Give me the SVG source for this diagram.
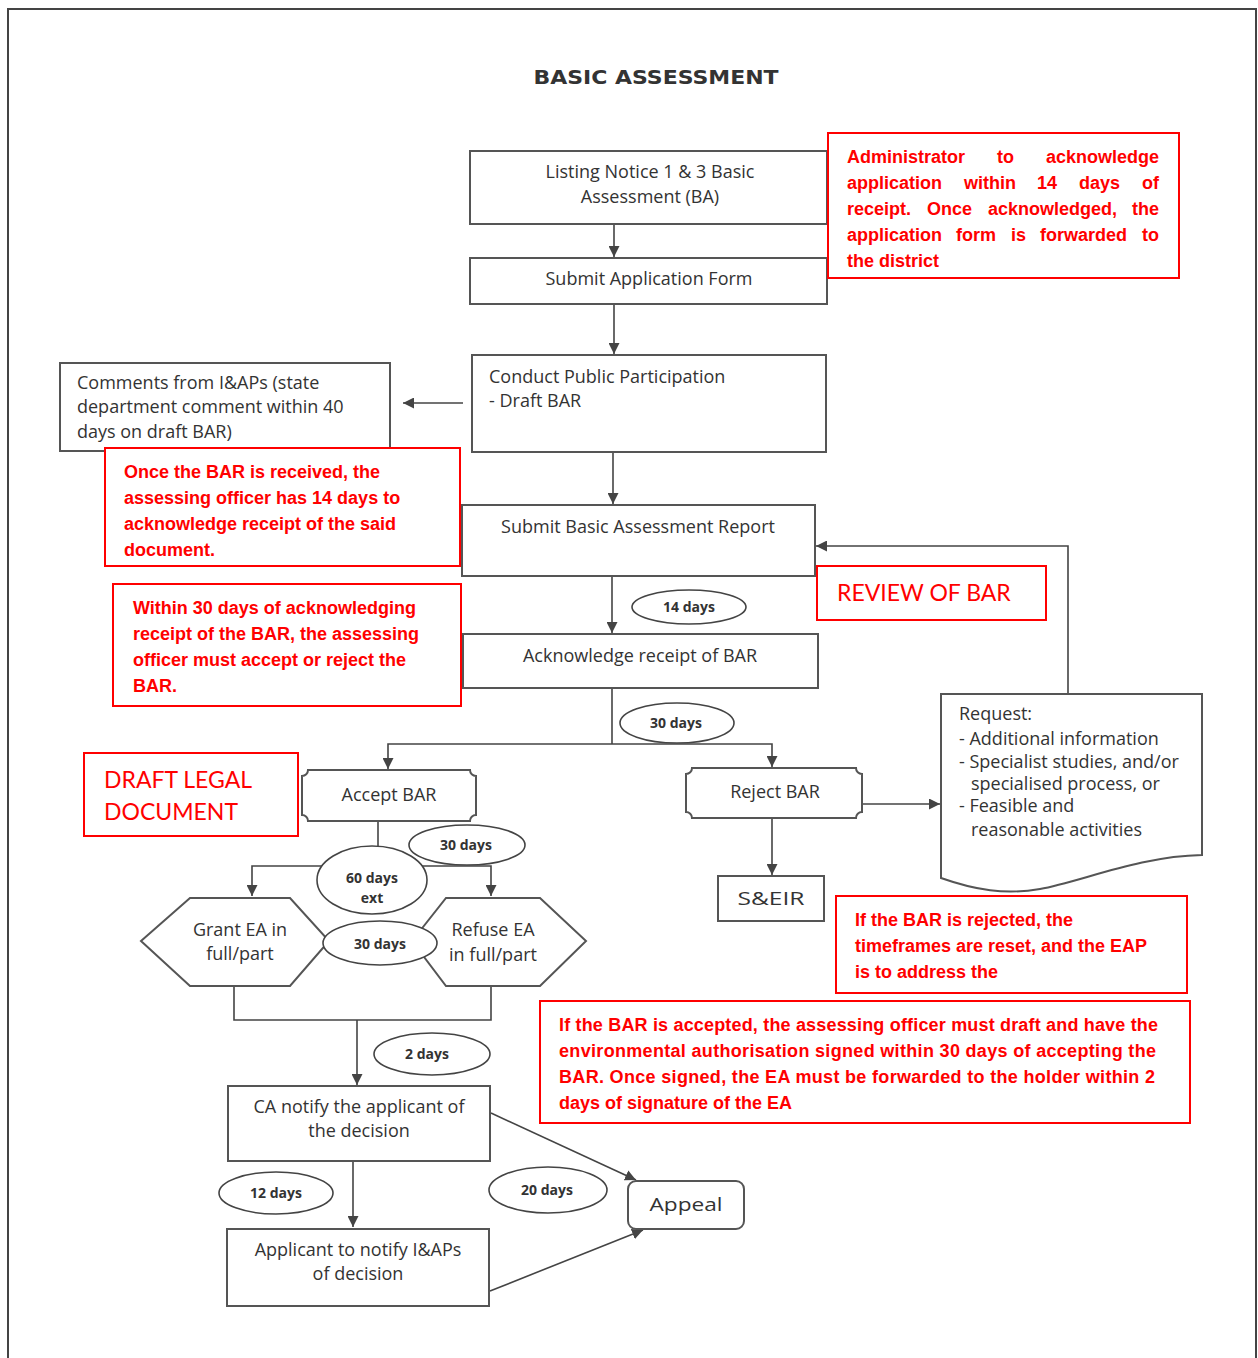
<svg xmlns="http://www.w3.org/2000/svg" width="1258" height="1358" viewBox="0 0 1258 1358">
<defs>
<marker id="ah" viewBox="0 0 10 10" refX="10" refY="5" markerWidth="11" markerHeight="11" markerUnits="userSpaceOnUse" orient="auto">
<path d="M0,0 L10,5 L0,10 Z" fill="#444"/>
</marker>
<style>
.box{fill:#fff;stroke:#555;stroke-width:2}
.con{fill:none;stroke:#444;stroke-width:1.6}
.arr{fill:none;stroke:#444;stroke-width:1.6;marker-end:url(#ah)}
.ell{fill:#fff;stroke:#444;stroke-width:1.6}
.t{font-family:"Open Sans","Liberation Sans",sans-serif;font-size:18px;fill:#333}
.tc{text-anchor:middle}
.e{font-family:"Open Sans","Liberation Sans",sans-serif;font-size:14px;font-weight:bold;fill:#333;text-anchor:middle}
.rb{fill:#fff;stroke:#ff0000;stroke-width:2}
.r{font-family:"Liberation Sans",Arial,sans-serif;font-size:18px;font-weight:bold;fill:#ff0000}
.rn{font-family:Lato,"Liberation Sans",sans-serif;font-size:23px;fill:#ff0000}
</style>
</defs>
<rect width="1258" height="1358" fill="#fff"/>
<path d="M8,1358 V9 H1256 V1358" fill="none" stroke="#444" stroke-width="2"/>
<text x="656" y="84" font-family="'DejaVu Sans',Verdana,sans-serif" font-size="19" font-weight="bold" fill="#333" text-anchor="middle" textLength="245" lengthAdjust="spacingAndGlyphs">BASIC ASSESSMENT</text>

<g id="connectors">
<line class="arr" x1="614" y1="225" x2="614" y2="257"/>
<line class="arr" x1="614" y1="305" x2="614" y2="354"/>
<line class="arr" x1="463" y1="403" x2="403" y2="403"/>
<line class="arr" x1="613" y1="453" x2="613" y2="504"/>
<line class="arr" x1="612" y1="577" x2="612" y2="633"/>
<path class="con" d="M612,689 V744"/>
<path class="arr" d="M612,744 H388 V769"/>
<path class="arr" d="M612,744 H772 V767"/>
<line class="arr" x1="863" y1="804" x2="940" y2="804"/>
<line class="arr" x1="772" y1="819" x2="772" y2="875"/>
<path class="arr" d="M1068,694 V546 H816"/>
<path class="con" d="M378,822 V866"/>
<path class="arr" d="M378,866 H252 V896"/>
<path class="arr" d="M378,866 H491 V896"/>
<path class="con" d="M234,986 V1020 H491 V986"/>
<line class="arr" x1="357" y1="1020" x2="357" y2="1085"/>
<line class="arr" x1="353" y1="1162" x2="353" y2="1227"/>
<line class="arr" x1="491" y1="1113" x2="636" y2="1180"/>
<line class="arr" x1="490" y1="1291" x2="643" y2="1230"/>
</g>

<g id="n1"><rect class="box" x="470" y="151" width="357" height="73"/>
<text class="t tc" x="650" y="178">Listing Notice 1 &amp; 3 Basic</text>
<text class="t tc" x="650" y="203">Assessment (BA)</text></g>

<g id="n2"><rect class="box" x="470" y="258" width="357" height="46"/>
<text class="t tc" x="649" y="285">Submit Application Form</text></g>

<g id="n3"><rect class="box" x="472" y="355" width="354" height="97"/>
<text class="t" x="489" y="383">Conduct Public Participation</text>
<text class="t" x="489" y="407" font-size="14.5">- Draft BAR</text></g>

<g id="n4"><rect class="box" x="60" y="363" width="330" height="88"/>
<text class="t" x="77" y="389">Comments from I&amp;APs (state</text>
<text class="t" x="77" y="413">department comment within 40</text>
<text class="t" x="77" y="438">days on draft BAR)</text></g>

<g id="n5"><rect class="box" x="462" y="505" width="353" height="71"/>
<text class="t tc" x="638" y="533">Submit Basic Assessment Report</text></g>

<g id="n6"><rect class="box" x="463" y="634" width="355" height="54"/>
<text class="t tc" x="640" y="662">Acknowledge receipt of BAR</text></g>

<g id="n7"><path class="box" d="M308,770 H470 A6,6 0 0 0 476,776 V815 A6,6 0 0 0 470,821 H308 A6,6 0 0 0 302,815 V776 A6,6 0 0 0 308,770 Z"/>
<text class="t tc" x="389" y="801">Accept BAR</text></g>

<g id="n8"><path class="box" d="M692,768 H856 A6,6 0 0 0 862,774 V812 A6,6 0 0 0 856,818 H692 A6,6 0 0 0 686,812 V774 A6,6 0 0 0 692,768 Z"/>
<text class="t tc" x="775" y="798">Reject BAR</text></g>

<g id="n9"><rect class="box" x="718" y="876" width="106" height="45"/>
<text class="t tc" x="771" y="905" font-size="20" textLength="67" lengthAdjust="spacingAndGlyphs">S&amp;EIR</text></g>

<g id="n10"><path class="box" d="M941,694 H1202 V855 C1140,856 1080,882 1040,889 C1005,895 975,890 941,878 Z"/>
<text class="t" x="959" y="720" font-size="15.5">Request:</text>
<text class="t" x="959" y="745" font-size="15.5">- Additional information</text>
<text class="t" x="959" y="768" font-size="15.5">- Specialist studies, and/or</text>
<text class="t" x="971" y="790" font-size="15.5">specialised process, or</text>
<text class="t" x="959" y="812" font-size="15.5">-  Feasible and</text>
<text class="t" x="971" y="836" font-size="15.5">reasonable activities</text></g>

<g id="n11"><polygon class="box" points="141,941 190,898 290,898 329,941 290,986 190,986"/>
<text class="t tc" x="240" y="936">Grant EA in</text>
<text class="t tc" x="240" y="960">full/part</text></g>

<g id="n12"><polygon class="box" points="412,941 446,898 540,898 586,941 540,986 446,986"/>
<text class="t tc" x="493" y="936">Refuse EA</text>
<text class="t tc" x="493" y="961">in full/part</text></g>

<g id="n13"><rect class="box" x="228" y="1086" width="262" height="75"/>
<text class="t tc" x="359" y="1113">CA notify the applicant of</text>
<text class="t tc" x="359" y="1137">the decision</text></g>

<g id="n14"><rect class="box" x="227" y="1229" width="262" height="77"/>
<text class="t tc" x="358" y="1256">Applicant to notify I&amp;APs</text>
<text class="t tc" x="358" y="1280">of decision</text></g>

<g id="n15"><rect class="box" x="628" y="1181" width="116" height="48" rx="8"/>
<text class="t tc" x="686" y="1211" font-size="21" textLength="73" lengthAdjust="spacingAndGlyphs">Appeal</text></g>

<g id="labels">
<ellipse class="ell" cx="689" cy="607" rx="57" ry="17"/><text class="e" x="689" y="612">14 days</text>
<ellipse class="ell" cx="677" cy="723" rx="57" ry="20"/><text class="e" x="676" y="728">30 days</text>
<ellipse class="ell" cx="467" cy="845" rx="58" ry="20"/><text class="e" x="466" y="850">30 days</text>
<ellipse class="ell" cx="372" cy="880" rx="55" ry="34"/><text class="e" x="372" y="883">60 days</text><text class="e" x="372" y="903">ext</text>
<ellipse class="ell" cx="380" cy="943" rx="57" ry="22"/><text class="e" x="380" y="949">30 days</text>
<ellipse class="ell" cx="432" cy="1054" rx="58" ry="21"/><text class="e" x="427" y="1059">2 days</text>
<ellipse class="ell" cx="276" cy="1193" rx="57" ry="21"/><text class="e" x="276" y="1198">12 days</text>
<ellipse class="ell" cx="548" cy="1190" rx="59" ry="23"/><text class="e" x="547" y="1195">20 days</text>
</g>

<g id="r1"><rect class="rb" x="828" y="133" width="351" height="145"/>
<text class="r" y="163"><tspan x="847">Administrator</tspan><tspan x="997">to</tspan><tspan x="1159" text-anchor="end">acknowledge</tspan></text>
<text class="r" y="189"><tspan x="847">application</tspan><tspan x="964">within</tspan><tspan x="1037">14</tspan><tspan x="1079">days</tspan><tspan x="1159" text-anchor="end">of</tspan></text>
<text class="r" y="215"><tspan x="847">receipt.</tspan><tspan x="927">Once</tspan><tspan x="988">acknowledged,</tspan><tspan x="1159" text-anchor="end">the</tspan></text>
<text class="r" y="241"><tspan x="847">application</tspan><tspan x="956">form</tspan><tspan x="1011">is</tspan><tspan x="1040">forwarded</tspan><tspan x="1159" text-anchor="end">to</tspan></text>
<text class="r" x="847" y="267">the district</text></g>

<g id="r2"><rect class="rb" x="105" y="448" width="355" height="118"/>
<text class="r" x="124" y="478">Once the BAR is received, the</text>
<text class="r" x="124" y="504">assessing officer has 14 days to</text>
<text class="r" x="124" y="530">acknowledge receipt of the said</text>
<text class="r" x="124" y="556">document.</text></g>

<g id="r3"><rect class="rb" x="113" y="584" width="348" height="122"/>
<text class="r" x="133" y="614">Within 30 days of acknowledging</text>
<text class="r" x="133" y="640">receipt of the BAR, the assessing</text>
<text class="r" x="133" y="666">officer must accept or reject the</text>
<text class="r" x="133" y="692">BAR.</text></g>

<g id="r4"><rect class="rb" x="817" y="566" width="229" height="54"/>
<text class="rn" x="837" y="601">REVIEW OF BAR</text></g>

<g id="r5"><rect class="rb" x="84" y="753" width="214" height="83"/>
<text class="rn" x="104" y="788" font-size="22.5">DRAFT LEGAL</text>
<text class="rn" x="104" y="820" font-size="22.5">DOCUMENT</text></g>

<g id="r6"><rect class="rb" x="836" y="896" width="351" height="97"/>
<text class="r" x="855" y="926">If the BAR is rejected, the</text>
<text class="r" x="855" y="952">timeframes are reset, and the EAP</text>
<text class="r" x="855" y="978">is to address the</text></g>

<g id="r7"><rect class="rb" x="540" y="1001" width="650" height="122"/>
<text class="r" x="559" y="1031" textLength="599" lengthAdjust="spacing">If the BAR is accepted, the assessing officer must draft and have the</text>
<text class="r" x="559" y="1057" textLength="597" lengthAdjust="spacing">environmental authorisation signed within 30 days of accepting the</text>
<text class="r" x="559" y="1083" textLength="596" lengthAdjust="spacing">BAR. Once signed, the EA must be forwarded to the holder within 2</text>
<text class="r" x="559" y="1109">days of signature of the EA</text></g>
</svg>
